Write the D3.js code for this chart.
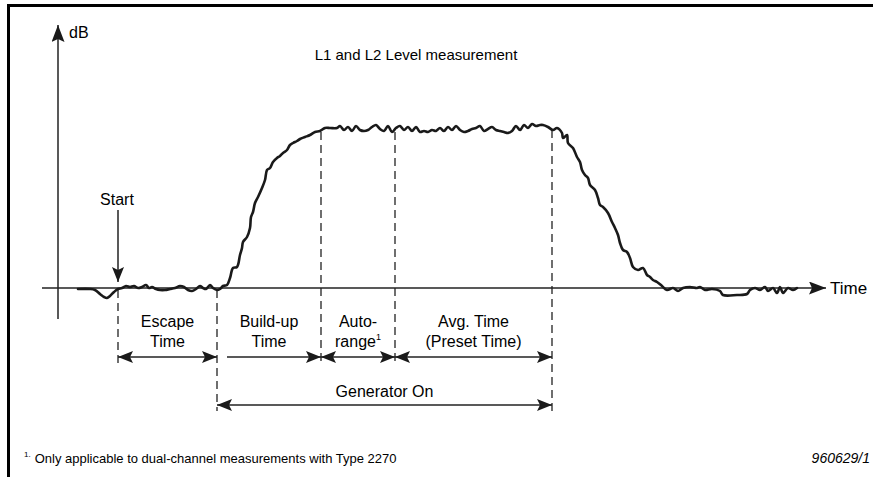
<!DOCTYPE html>
<html>
<head>
<meta charset="utf-8">
<script src="https://cdn.jsdelivr.net/npm/d3@7"></script>
<style>
  html, body { margin: 0; padding: 0; background: #fff; }
  svg { display: block; font-family: "Liberation Sans", Arial, sans-serif; }
</style>
</head>
<body>
<div id="chart"></div>
<script>
// level trace (time in ms-ish units, level in dB above floor)
var traceTime = [
  20, 32, 37, 42, 46, 49, 52, 56, 60, 64, 68, 72, 76, 80, 84, 88, 91, 94, 98, 102,
  107, 112, 117, 122, 126, 130, 134, 138, 142, 145, 148, 152, 155, 159, 162, 165,
  169, 172, 175, 179, 182, 184, 185, 189, 192, 193, 195, 197, 200, 204, 207, 209,
  212, 215, 219, 222, 225, 229, 232, 235, 239, 242, 247, 252, 257, 262, 267, 272, 279,
  282, 286, 290, 294, 298, 302, 306, 310, 314, 318, 322, 326, 330, 334, 338, 342,
  346, 350, 354, 358, 362, 366, 370, 374, 378, 382, 386, 390, 394, 398, 402, 406,
  410, 414, 418, 422, 426, 430, 434, 438, 442, 446, 450, 454, 458, 462, 466, 470,
  474, 478, 482,
  485, 490, 495, 499, 504, 505, 509, 510, 515, 519, 522, 524, 527, 530, 532, 537,
  540, 542, 545, 550, 554, 557, 560, 562, 565, 569, 572, 575, 580, 585, 589, 592,
  595, 599, 604, 609, 615, 620, 625, 632, 639, 642, 647, 654, 662, 665, 679, 689,
  692, 697, 702, 707, 710, 715, 719, 722, 725, 730, 735, 739
];
var traceLevel = [
  -0.5, -0.5, -1, -3, -4.5, -5, -4, -2, -0.5, 0, 1, 0.5, 1, 0, 0.5, 1.5, 0, 0.5, -0.5, -1,
  -1, -0.5, 0, 1, 0.5, -1, -1.5, -0.5, 1, 0, -0.5, 1.5, 0, -1, -0.5, 1,
  1.5, 5, 10, 10.5, 16.5, 20, 23, 25.5, 30, 35.5, 38, 42.5, 45.5, 50, 54, 59,
  60, 63, 65, 66, 67.5, 69, 71.5, 72.5, 73.5, 74.5, 75.5, 76.5, 78, 78.5, 80, 80, 80,
  81, 79, 80.5, 78.5, 81, 79, 78.5, 79, 80.5, 81.5, 79.5, 78.5, 81, 78, 80, 81,
  79, 80.5, 78.5, 80.5, 78, 78.5, 78, 79, 78.5, 80, 78.5, 80.5, 79, 81, 79, 78,
  78.5, 79.5, 80, 81, 78.5, 79.5, 80.5, 79, 78.5, 78, 77.5, 78.5, 81, 79, 81.5, 80,
  82, 81, 81.5,
  81.5, 80.5, 79, 80, 77.5, 75, 76.5, 72.5, 70, 65.5, 63, 59, 56.5, 55, 51.5, 49,
  45, 41.5, 40.5, 37.5, 33, 30, 26.5, 22.5, 19, 18, 15, 10.5, 9, 10, 6.5, 5.5,
  4, 3, 1, -1, 0, -1.5, 0, 0.5, 0, 0.5, -1, -0.5, -1.5, -3.5, -3.5, -3,
  -1, 0, -1, 0.5, -1.5, 0, -2.5, 0.5, -2.5, 0, -1, 0
];

// phase boundaries (same time units)
var phaseNames = ["start", "buildUp", "autorange", "avg", "genOff"];
var phaseTimes = [60, 159, 263, 337, 494];

// interval labels, two lines each
var intervalFrom = [60, 159, 263, 337];
var intervalTo = [159, 263, 337, 494];
var intervalLine1 = ["Escape", "Build-up", "Auto-", "Avg. Time"];
var intervalLine2 = ["Time", "Time", "range", "(Preset Time)"];

var W = 873, H = 477;

var svg = d3.select("#chart").append("svg")
  .attr("width", W)
  .attr("height", H);

var x = d3.scaleLinear().domain([0, 760]).range([58, 818]);
var y = d3.scaleLinear().domain([0, 80]).range([288, 128]);

// arrowheads
var defs = svg.append("defs");
function addHead(id, len, half) {
  defs.append("marker")
    .attr("id", id)
    .attr("markerUnits", "userSpaceOnUse")
    .attr("markerWidth", len + 2)
    .attr("markerHeight", half * 2 + 2)
    .attr("refX", len)
    .attr("refY", half)
    .attr("orient", "auto-start-reverse")
    .append("path")
    .attr("d", "M0,0 L" + len + "," + half + " L0," + (half * 2) + " L3," + half + " Z")
    .attr("fill", "#1a1a1a");
}
addHead("head", 15, 6);
addHead("axisHead", 17, 6.5);

// frame (top + left only)
svg.append("path")
  .attr("d", "M8.5," + H + " L8.5,5.5 L" + W + ",5.5")
  .attr("fill", "none")
  .attr("stroke", "#000")
  .attr("stroke-width", 3);

// axes
svg.append("line")
  .attr("x1", x(0)).attr("x2", x(0))
  .attr("y1", y(-15.5)).attr("y2", 25)
  .attr("stroke", "#222").attr("stroke-width", 1.5)
  .attr("marker-end", "url(#axisHead)");

svg.append("line")
  .attr("x1", x(-16)).attr("x2", x(768))
  .attr("y1", y(0)).attr("y2", y(0))
  .attr("stroke", "#222").attr("stroke-width", 1.5)
  .attr("marker-end", "url(#axisHead)");

svg.append("text")
  .attr("x", x(0) + 11).attr("y", 38)
  .attr("font-size", 16)
  .text("dB");

svg.append("text")
  .attr("x", x(768) + 4).attr("y", y(0) + 6)
  .attr("font-size", 17)
  .text("Time");

svg.append("text")
  .attr("x", 416).attr("y", 60)
  .attr("text-anchor", "middle")
  .attr("font-size", 15)
  .text("L1 and L2 Level measurement");

// dashed phase markers
var rowArrow = 357, rowGen = 405;
var dashTop = [y(-1), y(-1), y(78), y(78), y(79)];
var dashBottom = [rowArrow + 6, rowGen + 6, rowArrow + 5, rowArrow + 5, rowGen + 6];
svg.append("g").selectAll("line")
  .data(phaseTimes)
  .join("line")
  .attr("x1", function (d) { return x(d); })
  .attr("x2", function (d) { return x(d); })
  .attr("y1", function (d, i) { return dashTop[i]; })
  .attr("y2", function (d, i) { return dashBottom[i]; })
  .attr("stroke", "#222")
  .attr("stroke-width", 1.3)
  .attr("stroke-dasharray", "8,5");

// level trace
var line = d3.line()
  .x(function (d) { return x(d[0]); })
  .y(function (d) { return y(d[1]); })
  .curve(d3.curveCatmullRom.alpha(0.5));

svg.append("path")
  .datum(d3.zip(traceTime, traceLevel))
  .attr("d", line)
  .attr("fill", "none")
  .attr("stroke", "#1a1a1a")
  .attr("stroke-width", 2.6)
  .attr("stroke-linejoin", "round")
  .attr("stroke-linecap", "round");

// start arrow
svg.append("line")
  .attr("x1", x(phaseTimes[0])).attr("x2", x(phaseTimes[0]))
  .attr("y1", 210).attr("y2", y(3))
  .attr("stroke", "#222").attr("stroke-width", 1.5)
  .attr("marker-end", "url(#head)");
svg.append("text")
  .attr("x", x(phaseTimes[0]) - 1).attr("y", 205)
  .attr("text-anchor", "middle")
  .attr("font-size", 16)
  .text("Start");

// interval arrows
var arrows = svg.append("g");
intervalFrom.forEach(function (t0, i) {
  var t1 = intervalTo[i];
  var a = arrows.append("line")
    .attr("x1", i === 1 ? x(t0) + 10 : x(t0))
    .attr("x2", x(t1))
    .attr("y1", rowArrow).attr("y2", rowArrow)
    .attr("stroke", "#222").attr("stroke-width", 1.5)
    .attr("marker-end", "url(#head)");
  if (i !== 1) a.attr("marker-start", "url(#head)");

  var cx = (x(t0) + x(t1)) / 2;
  arrows.append("text")
    .attr("x", cx).attr("y", 327)
    .attr("text-anchor", "middle")
    .attr("font-size", 16)
    .text(intervalLine1[i]);
  var t2 = arrows.append("text")
    .attr("x", cx).attr("y", 347)
    .attr("text-anchor", "middle")
    .attr("font-size", 16)
    .text(intervalLine2[i]);
  if (i === 2) {
    t2.append("tspan")
      .attr("font-size", 9)
      .attr("dy", -7)
      .text("1");
  }
});

// generator on
svg.append("line")
  .attr("x1", x(phaseTimes[1])).attr("x2", x(phaseTimes[4]))
  .attr("y1", rowGen).attr("y2", rowGen)
  .attr("stroke", "#222").attr("stroke-width", 1.5)
  .attr("marker-start", "url(#head)")
  .attr("marker-end", "url(#head)");
svg.append("text")
  .attr("x", (x(phaseTimes[1]) + x(phaseTimes[4])) / 2).attr("y", 397)
  .attr("text-anchor", "middle")
  .attr("font-size", 16)
  .text("Generator On");

// footnote
var foot = svg.append("text")
  .attr("x", 24).attr("y", 463)
  .attr("font-size", 13)
  .attr("font-family", "'Liberation Sans Narrow', 'Liberation Sans', sans-serif");
foot.append("tspan").attr("font-size", 8).attr("dy", -6).text("1.");
foot.append("tspan").attr("dy", 6).attr("dx", 4).text("Only applicable to dual-channel measurements with Type 2270");

svg.append("text")
  .attr("x", 870).attr("y", 463)
  .attr("text-anchor", "end")
  .attr("font-size", 14)
  .attr("font-style", "italic")
  .text("960629/1");
</script>
</body>
</html>
